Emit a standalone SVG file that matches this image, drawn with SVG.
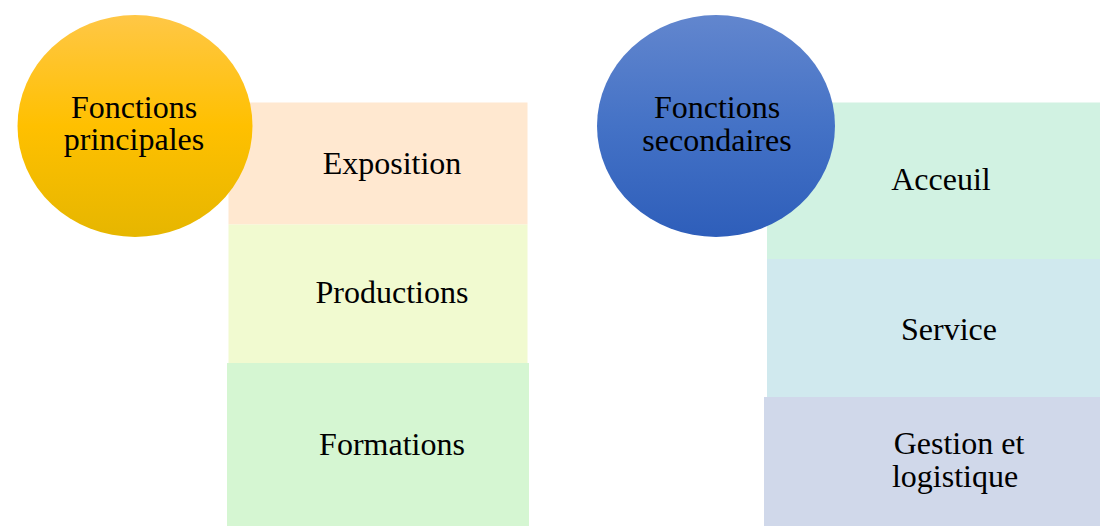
<svg xmlns="http://www.w3.org/2000/svg" width="1100" height="526" viewBox="0 0 1100 526">
<defs>
<linearGradient id="gOr" x1="0" y1="0" x2="0" y2="1">
<stop offset="0" stop-color="#FFC746"/>
<stop offset="0.5" stop-color="#FFC000"/>
<stop offset="1" stop-color="#E6B600"/>
</linearGradient>
<linearGradient id="gBl" x1="0" y1="0" x2="0" y2="1">
<stop offset="0" stop-color="#6286CE"/>
<stop offset="0.5" stop-color="#4472C6"/>
<stop offset="1" stop-color="#2E5EBA"/>
</linearGradient>
<style>
text{font-family:"Liberation Serif","Times New Roman",serif;font-size:32px;fill:#000;text-anchor:middle}
</style>
</defs>
<rect width="1100" height="526" fill="#fff"/>
<g id="connectors"/>
<g id="exposition"><rect x="228.5" y="102.5" width="299" height="122" fill="#FFE8D0"/><text x="392" y="174">Exposition</text></g>
<g id="productions"><rect x="228.5" y="224.5" width="299" height="138.5" fill="#F1FAD0"/><text x="392" y="303">Productions</text></g>
<g id="formations"><rect x="227" y="363" width="302" height="163" fill="#D5F6D2"/><text x="392" y="455">Formations</text></g>
<g id="principales"><ellipse cx="135" cy="126" rx="117.5" ry="111" fill="url(#gOr)"/><text x="134" y="118">Fonctions</text><text x="134" y="150">principales</text></g>
<g id="acceuil"><rect x="767" y="102.5" width="333" height="156.5" fill="#D1F2E2"/><text x="941" y="190">Acceuil</text></g>
<g id="service"><rect x="767" y="259" width="333" height="138" fill="#D0E9EE"/><text x="949" y="340">Service</text></g>
<g id="gestion"><rect x="764" y="397" width="336" height="129" fill="#D0D8EA"/><text x="959" y="454">Gestion et</text><text x="955" y="487">logistique</text></g>
<g id="secondaires"><ellipse cx="716" cy="126" rx="119" ry="111" fill="url(#gBl)"/><text x="717" y="118">Fonctions</text><text x="717" y="151">secondaires</text></g>
</svg>
